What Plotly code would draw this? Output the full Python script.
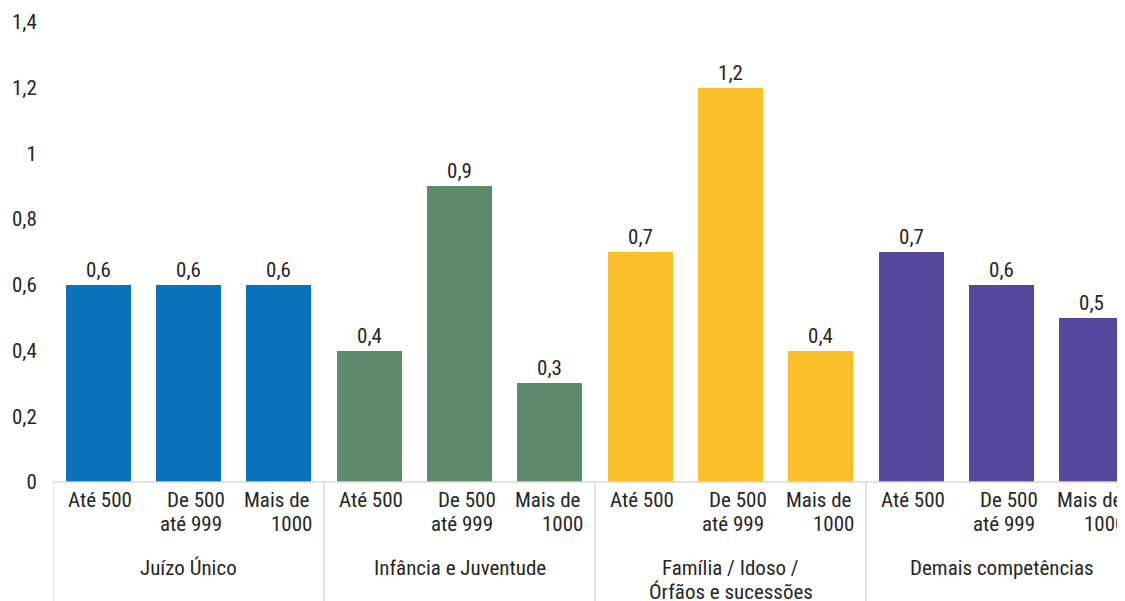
import plotly.graph_objects as go

groups = [["Juízo Único"], ["Infância e Juventude"], ["Família / Idoso /", "Órfãos e sucessões"], ["Demais competências"]]
subcats = [["Até 500"], ["De 500", "até 999"], ["Mais de", "1000"]]
values = [0.6, 0.6, 0.6,
          0.4, 0.9, 0.3,
          0.7, 1.2, 0.4,
          0.7, 0.6, 0.5]
group_colors = ["#0B71BB", "#5E8A6C", "#FDBF2A", "#55489C"]
value_labels = [f"{v:.1f}".replace(".", ",") for v in values]

n_sub = len(subcats)
xs = list(range(len(values)))
colors = [group_colors[i // n_sub] for i in xs]

TXT = "#262626"
FONT = "Liberation Sans Narrow, Roboto Condensed, Roboto, sans-serif"
FS = 21

# per-line horizontal nudges of sub-category labels (pixels)
sub_xshift = [[2], [7, 2], [-2, 13]]

fig = go.Figure()
fig.add_trace(go.Bar(
    x=xs, y=values, marker=dict(color=colors, line=dict(width=0)),
    width=0.72, text=value_labels, textposition="outside",
    textfont=dict(size=FS, color=TXT, family=FONT), cliponaxis=False,
    hoverinfo="skip"))

annotations = []
for i in xs:
    for li, line in enumerate(subcats[i % n_sub]):
        annotations.append(dict(x=i, y=0, xref="x", yref="paper", text=line,
                                showarrow=False, xanchor="center", yanchor="middle",
                                xshift=sub_xshift[i % n_sub][li], yshift=-18 - 24 * li,
                                font=dict(size=FS, color=TXT, family=FONT)))
for g, name in enumerate(groups):
    for li, line in enumerate(name):
        annotations.append(dict(x=g * n_sub + (n_sub - 1) / 2, y=0, xref="x", yref="paper", text=line,
                                showarrow=False, xanchor="center", yanchor="middle",
                                yshift=-86 - 24 * li,
                                font=dict(size=FS, color=TXT, family=FONT)))

shapes = []
bottom = -119 / 460
for g in range(len(groups)):
    xb = g * n_sub - 0.5
    shapes.append(dict(type="line", xref="x", yref="paper", x0=xb, x1=xb, y0=0, y1=bottom,
                       line=dict(color="#D9D9D9", width=1.5)))
shapes.append(dict(type="line", xref="paper", yref="paper", x0=0, x1=1, y0=0, y1=0,
                   line=dict(color="#D9D9D9", width=1.5)))

fig.update_layout(
    width=1117, height=593,
    margin=dict(l=45, r=0, t=14, b=119),
    paper_bgcolor="white", plot_bgcolor="white",
    separators=",.",
    showlegend=False,
    bargap=0,
    annotations=annotations, shapes=shapes,
    font=dict(family=FONT, size=FS, color=TXT),
    xaxis=dict(range=[-0.5, 11.367], showticklabels=False, showgrid=False, zeroline=False,
               showline=False, ticks=""),
    yaxis=dict(range=[0, 1.4], dtick=0.2, tick0=0, showgrid=False, zeroline=False, showline=False,
               ticks="outside", ticklen=11, tickcolor="rgba(0,0,0,0)",
               tickfont=dict(size=FS, color=TXT, family=FONT)),
)
fig.write_html("out.html")
